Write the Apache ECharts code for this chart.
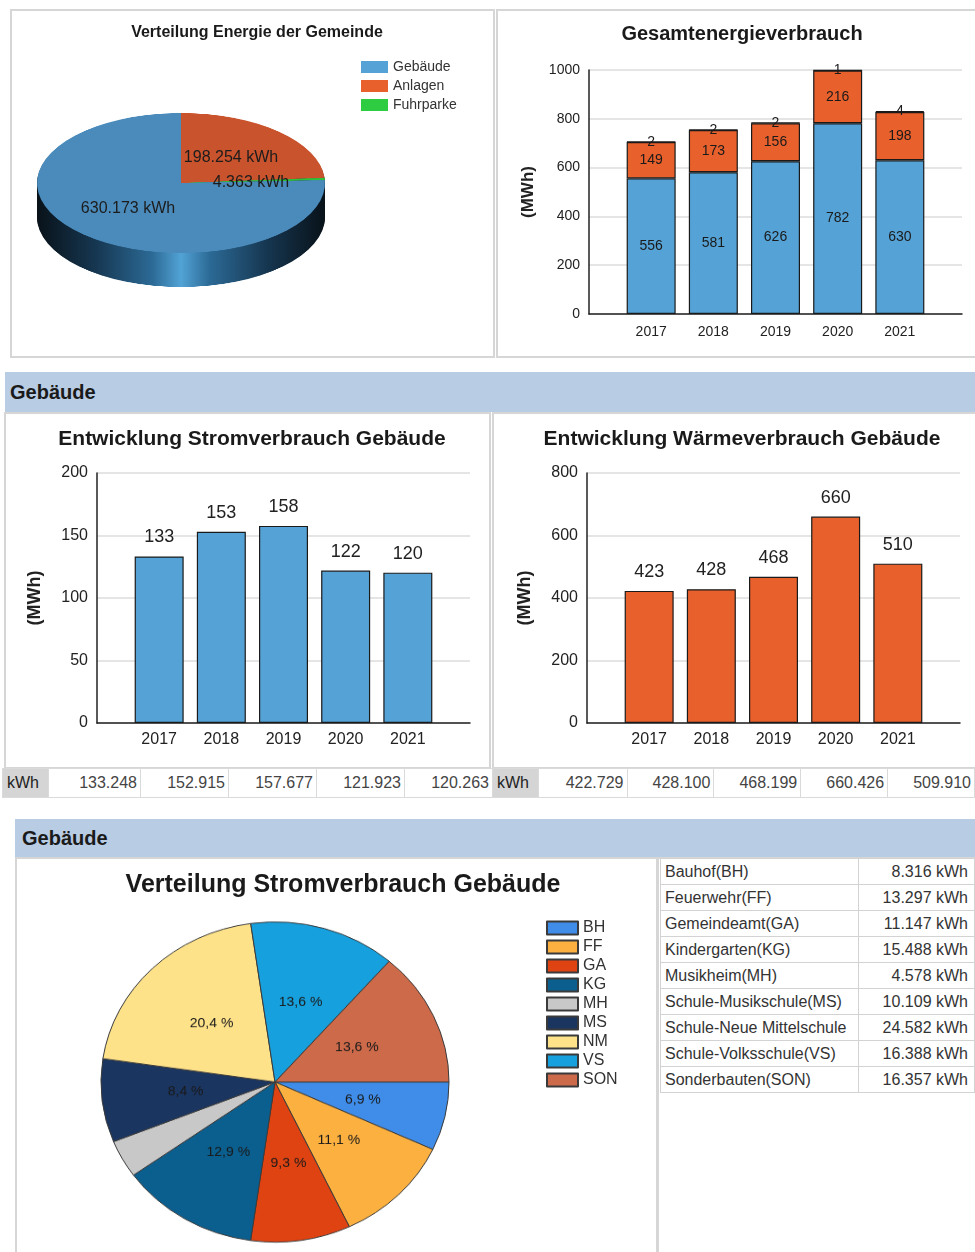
<!DOCTYPE html>
<html>
<head>
<meta charset="utf-8">
<title>Energiebericht Gemeinde</title>
<script src="https://cdn.jsdelivr.net/npm/echarts@6/dist/echarts.min.js"></script>
<style>
    body {
        margin: 0;
        width: 975px;
        height: 1252px;
        overflow: hidden;
        position: relative;
        background: #fff;
        font-family: 'Liberation Sans', Arial, sans-serif;
    }
    .panel {
        position: absolute;
        border: 2px solid #d6d6d6;
        box-sizing: border-box;
    }
    .band {
        position: absolute;
        background: #b8cce4;
        font-weight: bold;
        font-size: 20px;
        color: #1a1a1a;
        box-sizing: border-box;
    }
    #pie3d {
        position: absolute;
        left: 0;
        top: 0;
        width: 495px;
        height: 741px;
        transform: scaleY(0.486);
        transform-origin: 0 0;
        z-index: 1;
    }
    #pieStrom {
        position: absolute;
        left: 0;
        top: 857px;
        width: 660px;
        height: 435px;
        transform: scaleY(0.92);
        transform-origin: 0 0;
        z-index: 1;
    }
    #main {
        position: absolute;
        left: 0;
        top: 0;
        width: 975px;
        height: 1252px;
        z-index: 2;
    }
    table.row {
        position: absolute;
        top: 768px;
        border-collapse: collapse;
        table-layout: fixed;
        font-size: 16px;
        color: #444;
    }
    table.row td {
        height: 28px;
        border: 1.5px solid #dadada;
        text-align: right;
        padding: 0 3px 0 0;
        white-space: nowrap;
        overflow: hidden;
    }
    table.row td.unit {
        background: #d5d5d5;
        text-align: left;
        padding-left: 4px;
        color: #222;
    }
    #liste {
        position: absolute;
        left: 660px;
        top: 858px;
        border-collapse: collapse;
        table-layout: fixed;
        font-size: 16px;
        color: #333;
    }
    #liste td {
        height: 25px;
        border: 1.5px solid #d3d3d3;
        padding: 0 4px;
        white-space: nowrap;
        overflow: hidden;
    }
    #liste td.wert {
        text-align: right;
        padding-right: 6px;
    }
</style>
</head>
<body>
<div class="panel" style="left:10px;top:9px;width:485px;height:349px;"></div>
<div class="panel" style="left:496px;top:9px;width:490px;height:349px;"></div>

<div class="band" style="left:5px;top:372px;width:975px;height:40px;line-height:40px;padding-left:5px;">Gebäude</div>
<div class="panel" style="left:4px;top:412px;width:487px;height:357px;"></div>
<div class="panel" style="left:492px;top:412px;width:490px;height:357px;"></div>
<table class="row" id="rowStrom" style="left:2px;">
    <colgroup><col style="width:46px"><col style="width:92px"><col style="width:88px"><col style="width:88px"><col style="width:88px"><col style="width:88px"></colgroup>
</table>
<table class="row" id="rowWaerme" style="left:492px;">
    <colgroup><col style="width:46px"><col style="width:90px"><col style="width:88px"><col style="width:88px"><col style="width:88px"><col style="width:88px"></colgroup>
</table>

<div class="band" style="left:15px;top:819px;width:965px;height:38px;line-height:38px;padding-left:7px;">Gebäude</div>
<div class="panel" style="left:15px;top:857px;width:643px;height:400px;"></div>
<div class="panel" style="left:657px;top:857px;width:330px;height:400px;"></div>
<table id="liste">
    <colgroup><col style="width:202px"><col style="width:126px"></colgroup>
</table>

<div id="pie3d"></div>
<div id="pieStrom"></div>
<div id="main"></div>

<script>
    // Jahre
    var years = [2017, 2018, 2019, 2020, 2021];

    // Gesamtenergieverbrauch (MWh)
    var gesGebaeude = [556, 581, 626, 782, 630];
    var gesAnlagen = [149, 173, 156, 216, 198];
    var gesFuhrpark = [2, 2, 2, 1, 4];

    // Strom- und Wärmeverbrauch Gebäude (kWh)
    var stromKWh = [133248, 152915, 157677, 121923, 120263];
    var waermeKWh = [422729, 428100, 468199, 660426, 509910];

    // Verteilung Energie der Gemeinde (kWh)
    var energieNamen = ['Gebäude', 'Anlagen', 'Fuhrparke'];
    var energieWerte = [630173, 198254, 4363];

    // Verteilung Stromverbrauch Gebäude (kWh)
    var gebKurz = ['BH', 'FF', 'GA', 'KG', 'MH', 'MS', 'NM', 'VS', 'SON'];
    var gebLang = ['Bauhof(BH)', 'Feuerwehr(FF)', 'Gemeindeamt(GA)', 'Kindergarten(KG)', 'Musikheim(MH)',
        'Schule-Musikschule(MS)', 'Schule-Neue Mittelschule', 'Schule-Volksschule(VS)', 'Sonderbauten(SON)'];
    var gebStrom = [8316, 13297, 11147, 15488, 4578, 10109, 24582, 16388, 16357];

    var font = "'Liberation Sans', Arial, sans-serif";
    var blau = '#55a3d6', orange = '#e8602c', gruen = '#2ecc40';
    var gebFarben = ['#3f8de8', '#fbb040', '#e04312', '#0b5f8e', '#c8c8c8', '#1a3560', '#fde28a', '#17a0de', '#cd6a4a'];

    function fmt(v) {
        return String(v).replace(/\B(?=(\d{3})+(?!\d))/g, '.');
    }

    // Tabellen
    function rowTable(id, vals) {
        var tr = document.createElement('tr');
        var html = '<td class="unit">kWh</td>';
        vals.forEach(function (v) { html += '<td>' + fmt(v) + '</td>'; });
        tr.innerHTML = html;
        document.getElementById(id).appendChild(tr);
    }
    rowTable('rowStrom', stromKWh);
    rowTable('rowWaerme', waermeKWh);

    var liste = document.getElementById('liste');
    gebLang.forEach(function (name, i) {
        var tr = document.createElement('tr');
        tr.innerHTML = '<td>' + name + '</td><td class="wert">' + fmt(gebStrom[i]) + ' kWh</td>';
        liste.appendChild(tr);
    });

    // 3D-Torte (gestaucht per CSS)
    var s = 0.486, cx = 181, cy = 183, depth = 34, r = 144;
    var sideGrad = {
        type: 'linear', x: 0, y: 0, x2: 1, y2: 0,
        colorStops: [
            {offset: 0, color: '#091219'},
            {offset: 0.2, color: '#163650'},
            {offset: 0.4, color: '#2c6a96'},
            {offset: 0.5, color: '#52a3d6'},
            {offset: 0.6, color: '#2c6a96'},
            {offset: 0.8, color: '#163650'},
            {offset: 1, color: '#091219'}
        ]
    };
    var faceFarben = {'Gebäude': '#4a8bbb', 'Anlagen': '#c9532c', 'Fuhrparke': '#2fc23a'};
    var reihenfolge = [1, 2, 0];
    var pieSeries = [];
    for (var d = depth; d > 0; d--) {
        pieSeries.push({
            type: 'pie', silent: true, animation: false, z: 1,
            radius: r, center: [cx, (cy + d) / s],
            label: {show: false}, labelLine: {show: false},
            itemStyle: {color: sideGrad, borderWidth: 0},
            data: [{name: 'Seite', value: 1}]
        });
    }
    pieSeries.push({
        type: 'pie', silent: true, animation: false, z: 2,
        radius: r, center: [cx, cy / s],
        startAngle: 90, clockwise: true,
        label: {show: false}, labelLine: {show: false},
        itemStyle: {borderWidth: 0},
        data: reihenfolge.map(function (i) {
            return {name: energieNamen[i], value: energieWerte[i], itemStyle: {color: faceFarben[energieNamen[i]]}};
        })
    });
    var pie3d = echarts.init(document.getElementById('pie3d'));
    pie3d.setOption({series: pieSeries});

    // Stromverteilung (leicht oval wie im Original)
    var summeStrom = gebStrom.reduce(function (a, b) { return a + b; }, 0);
    var sv = 0.92;
    var pieStrom = echarts.init(document.getElementById('pieStrom'));
    pieStrom.setOption({
        series: [{
            type: 'pie', name: 'Stromverbrauch Gebäude', animation: false,
            center: [275, (1082 - 857) / sv], radius: 174, startAngle: 0, clockwise: true,
            emphasis: {disabled: true},
            itemStyle: {borderColor: '#3a3a3a', borderWidth: 1},
            label: {
                show: true, position: 'inside', fontSize: 14, color: '#1a1a1a', fontFamily: font,
                formatter: function (p) {
                    var pct = p.value / summeStrom * 100;
                    return pct < 5 ? '' : pct.toFixed(1).replace('.', ',') + ' %';
                }
            },
            labelLine: {show: false},
            data: gebKurz.map(function (n, i) {
                return {name: n, value: gebStrom[i], itemStyle: {color: gebFarben[i]}};
            })
        }]
    });

    // Hauptdiagramm
    var labelPos = [[128, 209], [231, 158], [251, 183]];

    // leere Randkategorie links und rechts, damit die Balken wie im Original eingerückt sind
    var axisJahre = [String(years[0] - 1)].concat(years.map(String), [String(years[years.length - 1] + 1)]);
    function pad(vals) {
        return [null].concat(vals, [null]);
    }

    function xAxisYears(gridIndex, fs, margin) {
        return {
            type: 'category', gridIndex: gridIndex, data: axisJahre, boundaryGap: false,
            axisLine: {show: true, onZero: false, lineStyle: {color: '#222', width: 1.5}},
            axisTick: {show: false},
            splitLine: {show: false},
            axisLabel: {
                fontSize: fs, color: '#222', margin: margin, fontFamily: font, interval: 0,
                formatter: function (v, idx) { return (idx === 0 || idx === axisJahre.length - 1) ? '' : v; }
            }
        };
    }

    function yAxisMWh(gridIndex, max, interval, fs, nameFs, gap) {
        return {
            type: 'value', gridIndex: gridIndex, min: 0, max: max, interval: interval,
            name: '(MWh)', nameLocation: 'middle', nameRotate: 90, nameGap: gap,
            nameTextStyle: {fontSize: nameFs, fontWeight: 'bold', color: '#222', fontFamily: font},
            axisLine: {show: true, onZero: false, lineStyle: {color: '#222', width: 1.5}},
            axisTick: {show: false},
            axisLabel: {
                fontSize: fs, color: '#222', margin: 9, fontFamily: font,
                formatter: function (v) { return String(v); }
            },
            splitLine: {show: true, lineStyle: {color: '#dcdcdc', width: 1.5}}
        };
    }

    var barBorder = {borderColor: '#1a1a1a', borderWidth: 1.2};

    function stackBar(name, vals, color) {
        return {
            name: name, type: 'bar', xAxisIndex: 0, yAxisIndex: 0, stack: 'gesamt', barWidth: 49,
            animation: false,
            data: pad(vals),
            itemStyle: Object.assign({color: color}, barBorder),
            label: {
                show: true, position: 'inside', fontSize: 14, color: '#1a1a1a', fontFamily: font,
                formatter: function (p) { return p.value; }
            }
        };
    }

    function simpleBar(name, idx, kwh, color) {
        return {
            name: name, type: 'bar', xAxisIndex: idx, yAxisIndex: idx, barWidth: 49,
            animation: false,
            data: pad(kwh.map(function (v) { return v / 1000; })),
            itemStyle: Object.assign({color: color}, barBorder),
            label: {
                show: true, position: 'top', distance: 10, fontSize: 18, color: '#222', fontFamily: font,
                formatter: function (p) { return Math.round(p.value); }
            }
        };
    }

    var titleStyle = function (fs) {
        return {fontSize: fs, fontWeight: 'bold', color: '#1a1a1a', fontFamily: font};
    };

    // Legendeneintraege fuer die Stromverteilung (Torte liegt in eigenem, gestauchtem Diagramm)
    var legendPie = {
        type: 'pie', name: 'Legende', silent: true, animation: false,
        center: [-100, -100], radius: 0,
        label: {show: false}, labelLine: {show: false},
        itemStyle: {borderColor: '#3a3a3a', borderWidth: 1},
        data: gebKurz.map(function (n, i) {
            return {name: n, value: gebStrom[i], itemStyle: {color: gebFarben[i]}};
        })
    };

    var option = {
        animation: false,
        textStyle: {fontFamily: font},
        title: [
            {text: 'Verteilung Energie der Gemeinde', left: 252, top: 20, textAlign: 'center', textStyle: titleStyle(16)},
            {text: 'Gesamtenergieverbrauch', left: 737, top: 19, textAlign: 'center', textStyle: titleStyle(20)},
            {text: 'Entwicklung Stromverbrauch Gebäude', left: 247, top: 424, textAlign: 'center', textStyle: titleStyle(21)},
            {text: 'Entwicklung Wärmeverbrauch Gebäude', left: 737, top: 424, textAlign: 'center', textStyle: titleStyle(21)},
            {text: 'Verteilung Stromverbrauch Gebäude', left: 338, top: 868, textAlign: 'center', textStyle: titleStyle(25)}
        ],
        legend: [
            {
                data: energieNamen, orient: 'vertical', left: 356, top: 55,
                icon: 'rect', itemWidth: 27, itemHeight: 12, itemGap: 5,
                itemStyle: {borderWidth: 0},
                selectedMode: false,
                textStyle: {fontSize: 14, color: '#333', fontFamily: font}
            },
            {
                data: gebKurz, orient: 'vertical', left: 541, top: 915,
                icon: 'rect', itemWidth: 31, itemHeight: 13, itemGap: 3,
                selectedMode: false,
                textStyle: {fontSize: 16, color: '#333', fontFamily: font}
            }
        ],
        grid: [
            {left: 589, top: 70, width: 373, height: 244},
            {left: 97, top: 473, width: 373, height: 250},
            {left: 587, top: 473, width: 373, height: 250}
        ],
        xAxis: [xAxisYears(0, 14, 11), xAxisYears(1, 16, 9), xAxisYears(2, 16, 9)],
        yAxis: [yAxisMWh(0, 1000, 200, 14, 17, 52), yAxisMWh(1, 200, 50, 16, 18, 53), yAxisMWh(2, 800, 200, 16, 18, 53)],
        graphic: energieWerte.map(function (v, i) {
            return {
                type: 'text', x: labelPos[i][0], y: labelPos[i][1], silent: true,
                style: {
                    text: fmt(v) + ' kWh', fontSize: 16, fontFamily: font, fill: '#1c1c1c',
                    align: 'center', verticalAlign: 'middle'
                }
            };
        }),
        series: [
            stackBar('Gebäude', gesGebaeude, blau),
            stackBar('Anlagen', gesAnlagen, orange),
            stackBar('Fuhrparke', gesFuhrpark, gruen),
            simpleBar('Strom', 1, stromKWh, blau),
            simpleBar('Wärme', 2, waermeKWh, orange),
            legendPie
        ]
    };

    var chart = echarts.init(document.getElementById('main'));
    chart.setOption(option);
</script>
</body>
</html>
